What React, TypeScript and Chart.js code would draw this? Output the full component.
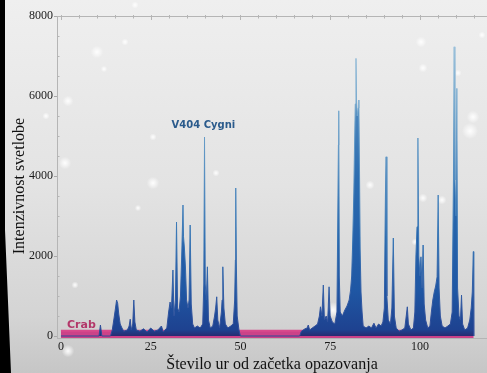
import React, { useEffect, useRef } from 'react';
import { Chart, registerables } from 'chart.js';

Chart.register(...registerables);

// ---- data ----
const v404Hours = [
  0, 10.6, 11.0, 11.4, 13.8, 14.3, 14.8, 15.2, 15.5, 15.8, 16.1, 16.5, 17.0, 17.5, 18.5, 19.0, 19.3, 19.6, 20.0, 20.3,
  20.6, 21.0, 22.0, 23.0, 24.0, 25.0, 26.0, 27.0, 28.0, 28.5, 29.5,
  30.0, 30.4, 30.8, 31.2, 31.5, 31.9, 32.2, 32.5, 32.9, 33.3, 33.7, 34.0, 34.15, 34.4, 34.7, 35.0, 35.4, 35.7, 36.0, 36.3,
  36.7, 37.2, 38.0, 38.8, 39.5, 39.8, 40.0, 40.2, 40.5, 40.8, 41.1, 41.6, 42.3, 42.8, 43.1, 43.4, 43.7, 44.2, 44.7, 44.9,
  45.1, 45.4, 45.8, 46.5, 47.3, 48.0, 48.4, 48.6, 48.7, 48.85, 49.1, 49.6, 50.0,
  66.5, 67.0, 68.0, 68.6, 68.9, 69.3, 70.0, 70.8, 71.5, 72.0, 72.3, 72.7, 73.1, 73.4, 73.9, 74.3, 74.7, 75.0, 75.6, 76.3,
  76.9, 77.3, 77.4, 77.55, 77.8, 78.4, 79.1, 79.7, 80.3, 80.7, 81.0, 81.3, 81.6, 81.8, 82.0, 82.2, 82.35, 82.55, 82.8, 83.0,
  83.15, 83.35, 83.6, 83.9, 84.2, 85.0, 85.8, 86.5, 87.2, 87.8, 88.5, 89.2, 89.7, 90.1, 90.4, 90.6, 90.8, 91.2, 91.8, 92.2,
  92.6, 92.9, 93.4, 94.2, 95.0, 95.8, 96.2, 96.5, 96.8, 97.5, 98.2, 98.6, 98.9, 99.2, 99.45, 99.7, 100.0, 100.3, 100.6, 100.9,
  101.2, 101.6, 102.2, 102.8, 103.2, 103.6, 104.0, 104.4, 104.8, 105.1, 105.35, 105.7, 106.2, 107.0, 107.8, 108.5, 109.0, 109.35, 109.55, 109.75,
  110.05, 110.3, 110.5, 110.9, 111.3, 111.6, 111.9, 112.5, 113.3, 113.9, 114.3, 114.6, 114.9, 115.0,
];
const v404Counts = [
  0, 0, 275, 0, 0, 150, 450, 700, 900, 820, 550, 300, 200, 120, 150, 250, 420, 150, 300, 900,
  350, 150, 120, 180, 100, 200, 120, 150, 250, 100, 200,
  600, 850, 700, 1650, 500, 900, 2850, 700, 600, 1000, 2200, 3275, 2480, 2200, 1700, 900, 700, 900, 2775, 800,
  300, 200, 250, 200, 300, 1300, 4975, 1300, 900, 1730, 400, 200, 250, 500, 700, 980, 400, 200, 600, 900,
  1730, 700, 300, 200, 250, 300, 900, 1900, 3700, 1900, 500, 150, 0,
  0, 120, 180, 200, 275, 150, 200, 250, 300, 500, 730, 500, 1275, 400, 500, 350, 1230, 500, 350, 300,
  600, 4775, 5630, 1500, 600, 500, 650, 750, 900, 1150, 1500, 2400, 3600, 4800, 5800, 6940, 5900, 5500, 5700, 5900,
  4500, 2200, 1100, 600, 250, 200, 250, 200, 320, 200, 300, 250, 350, 700, 3525, 4480, 1000, 400, 300, 700,
  2450, 500, 200, 120, 150, 200, 500, 730, 300, 150, 200, 600, 2000, 2730, 4950, 2000, 1500, 1980, 1200, 2275,
  800, 400, 200, 250, 600, 900, 1100, 1250, 1480, 3525, 1200, 500, 250, 200, 250, 300, 600, 3900, 7230, 3900,
  3000, 6190, 1200, 500, 400, 1025, 300, 150, 200, 400, 700, 1100, 2110, 0,
];
const crabHours = [0, 115];
const crabCounts = [130, 130];

const xTickValues = [0, 25, 50, 75, 100];
const yTickValues = [0, 2000, 4000, 6000, 8000];
const xMinorStep = 5;
const yMinorStep = 500;

const xTitle = 'Število ur od začetka opazovanja';
const yTitle = 'Intenzivnost svetlobe';
const v404Label = 'V404 Cygni';
const crabLabel = 'Crab';

// ---- styling constants ----
const X_MIN = -1.1;
const X_MAX = 118.7;
const Y_MIN = -50;
const Y_MAX = 8000;
const V404_LABEL_POS = { x: 39.7, y: 5200 };
const CRAB_LABEL_POS = { x: 1.7, y: 200 };
const Y_TITLE_CENTER = { x: 20, y: 186 };
const SNOW: [number, number, number][] = [
  [97, 52, 3.5], [125, 42, 2], [104, 69, 1.8], [68, 101, 3], [46, 116, 2], [135, 5, 2],
  [65, 163, 3.5], [153, 183, 3.5], [138, 208, 1.8], [153, 137, 2], [216, 173, 2], [421, 42, 3],
  [423, 68, 2.5], [458, 73, 2], [473, 117, 3.5], [470, 131, 4.5], [482, 35, 2], [75, 285, 2],
  [370, 185, 2.5], [423, 198, 2.5], [442, 200, 2.5], [333, 310, 4.5], [415, 242, 2], [68, 351, 3.5],
];
const SERIF = '"Liberation Serif", "Times New Roman", serif';
const SANS = '"DejaVu Sans", Verdana, sans-serif';

const backgroundPlugin = {
  id: 'bgPlugin',
  beforeDraw(chart: any) {
    const c = chart.ctx;
    const W = chart.width;
    const H = chart.height;
    c.save();
    const g = c.createLinearGradient(0, 0, 0, H);
    g.addColorStop(0, '#efefef');
    g.addColorStop(0.5, '#e3e3e3');
    g.addColorStop(0.85, '#d4d4d4');
    g.addColorStop(1, '#c6c6c6');
    c.fillStyle = g;
    c.fillRect(0, 0, W, H);
    c.fillStyle = '#000';
    c.beginPath();
    c.moveTo(0, 0);
    c.lineTo(5, 0);
    c.lineTo(5, 230);
    c.lineTo(11, H);
    c.lineTo(0, H);
    c.closePath();
    c.fill();
    for (const [x, y, r] of SNOW) {
      const rg = c.createRadialGradient(x, y, 0, x, y, r * 1.8);
      rg.addColorStop(0, 'rgba(255,255,255,0.95)');
      rg.addColorStop(0.45, 'rgba(255,255,255,0.55)');
      rg.addColorStop(1, 'rgba(255,255,255,0)');
      c.fillStyle = rg;
      c.beginPath();
      c.arc(x, y, r * 1.8, 0, Math.PI * 2);
      c.fill();
    }
    c.restore();
  },
  afterDraw(chart: any) {
    const c = chart.ctx;
    const xs = chart.scales.x;
    const ys = chart.scales.y;
    const area = chart.chartArea;
    c.save();
    c.strokeStyle = '#b5b5b5';
    c.lineWidth = 1;
    // top frame line
    c.beginPath();
    c.moveTo(area.left, area.top + 0.5);
    c.lineTo(area.right, area.top + 0.5);
    c.stroke();
    // top ticks (inward)
    for (let v = 0; v <= X_MAX; v += xMinorStep) {
      const px = Math.round(xs.getPixelForValue(v)) + 0.5;
      const major = xTickValues.includes(v);
      c.beginPath();
      c.moveTo(px, area.top - 1);
      c.lineTo(px, area.top + (major ? 4 : 2.5));
      c.stroke();
    }
    // left minor ticks (inward)
    for (let v = 0; v <= Y_MAX; v += yMinorStep) {
      if (yTickValues.includes(v)) continue;
      const py = Math.round(ys.getPixelForValue(v)) + 0.5;
      c.beginPath();
      c.moveTo(area.left, py);
      c.lineTo(area.left + 2.5, py);
      c.stroke();
    }
    // y axis title
    c.save();
    c.translate(Y_TITLE_CENTER.x, Y_TITLE_CENTER.y);
    c.rotate(-Math.PI / 2);
    c.font = `16px ${SERIF}`;
    c.fillStyle = '#111';
    c.textAlign = 'center';
    c.textBaseline = 'middle';
    c.fillText(yTitle, 0, 0);
    c.restore();
    // annotations
    c.textBaseline = 'alphabetic';
    c.font = `bold 10px ${SANS}`;
    c.fillStyle = '#2b5b8c';
    c.textAlign = 'center';
    c.fillText(v404Label, xs.getPixelForValue(V404_LABEL_POS.x), ys.getPixelForValue(V404_LABEL_POS.y));
    c.font = `bold 11px ${SANS}`;
    c.fillStyle = '#b3376a';
    c.textAlign = 'left';
    c.fillText(crabLabel, xs.getPixelForValue(CRAB_LABEL_POS.x), ys.getPixelForValue(CRAB_LABEL_POS.y));
    c.restore();
  },
};

function blueFill(context: any) {
  const chart = context.chart;
  const area = chart.chartArea;
  if (!area) return '#1f55a3';
  const g = chart.ctx.createLinearGradient(0, area.bottom, 0, area.top);
  g.addColorStop(0, '#2c2467');
  g.addColorStop(0.025, '#1e4290');
  g.addColorStop(0.15, '#1f57a4');
  g.addColorStop(0.5, '#2c6db0');
  g.addColorStop(0.8, '#5a92c2');
  g.addColorStop(1, '#96c0da');
  return g;
}

function blueLine(context: any) {
  const chart = context.chart;
  const area = chart.chartArea;
  if (!area) return '#3c78b0';
  const g = chart.ctx.createLinearGradient(0, area.bottom, 0, area.top);
  g.addColorStop(0, '#2e4896');
  g.addColorStop(0.3, '#3574b4');
  g.addColorStop(0.7, '#73a6cc');
  g.addColorStop(1, '#aacbe0');
  return g;
}

export default function App() {
  const ref = useRef<HTMLCanvasElement | null>(null);

  useEffect(() => {
    if (!ref.current) return;
    const chart = new Chart(ref.current, {
      type: 'line',
      data: {
        datasets: [
          {
            label: v404Label,
            data: v404Hours.map((h, i) => ({ x: h, y: v404Counts[i] })),
            borderColor: blueLine as any,
            backgroundColor: blueFill as any,
            borderWidth: 1,
            fill: 'origin',
            pointRadius: 0,
            tension: 0,
          },
          {
            label: crabLabel,
            data: crabHours.map((h, i) => ({ x: h, y: crabCounts[i] })),
            borderColor: '#d84a8d',
            backgroundColor: '#cc4288',
            borderWidth: 2,
            fill: 'start',
            pointRadius: 0,
            tension: 0,
          },
        ],
      },
      options: {
        animation: false,
        responsive: false,
        devicePixelRatio: 1,
        layout: { padding: { top: 16, left: 0, right: 0, bottom: 0 } },
        plugins: { legend: { display: false }, tooltip: { enabled: false } },
        events: [],
        scales: {
          x: {
            type: 'linear',
            min: X_MIN,
            max: X_MAX,
            afterBuildTicks: (s: any) => {
              s.ticks = xTickValues.map((v) => ({ value: v }));
            },
            afterFit: (s: any) => {
              s.height = 35;
            },
            grid: { display: false, drawTicks: false, tickLength: 0 },
            border: { display: true, color: '#b5b5b5', width: 1 },
            ticks: {
              padding: 2,
              color: '#1a1a1a',
              font: { family: SERIF, size: 12 },
              maxRotation: 0,
              callback: (v: any) => String(v),
            },
            title: {
              display: true,
              text: xTitle,
              color: '#111',
              font: { family: SERIF, size: 16, lineHeight: 1 },
              padding: { top: 0, bottom: 0 },
            },
          },
          y: {
            type: 'linear',
            min: Y_MIN,
            max: Y_MAX,
            afterBuildTicks: (s: any) => {
              s.ticks = yTickValues.map((v) => ({ value: v }));
            },
            afterFit: (s: any) => {
              s.width = 57;
            },
            grid: { display: true, drawOnChartArea: false, drawTicks: true, tickLength: 3, color: '#a8a8a8' },
            border: { display: true, color: '#b5b5b5', width: 1 },
            ticks: {
              padding: 1,
              color: '#1a1a1a',
              font: { family: SERIF, size: 12 },
              callback: (v: any) => String(v),
            },
            title: { display: false },
          },
        },
      },
      plugins: [backgroundPlugin],
    });
    return () => chart.destroy();
  }, []);

  return (
    <div style={{ position: 'fixed', left: 0, top: 0, width: 487, height: 373, overflow: 'hidden' }}>
      <canvas ref={ref} width={487} height={373} style={{ display: 'block', width: 487, height: 373 }} />
    </div>
  );
}
